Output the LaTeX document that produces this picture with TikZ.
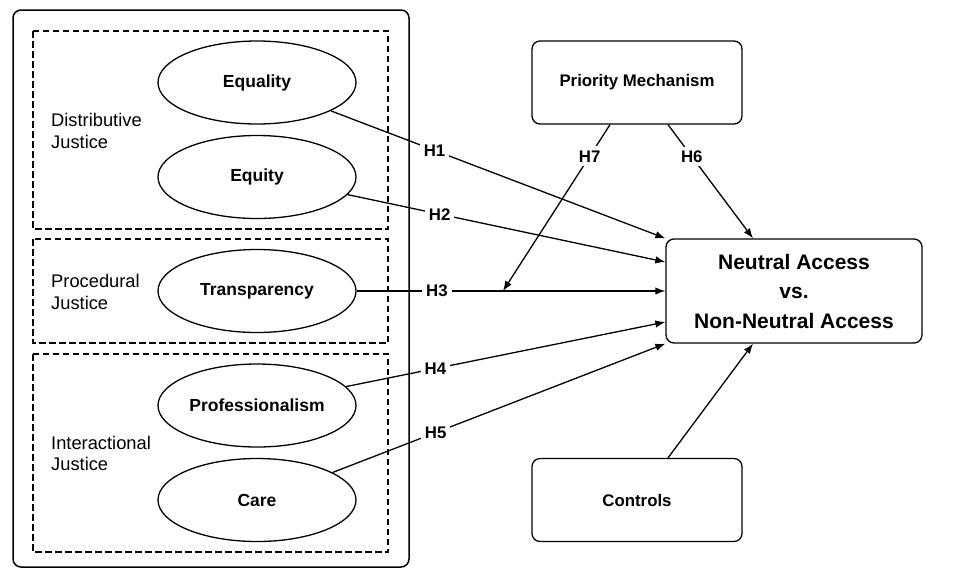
\documentclass[tikz,border=0pt]{standalone}
\usepackage{fontspec}
\setmainfont{Liberation Sans}
\usetikzlibrary{shapes.geometric,arrows.meta,calc}
\begin{document}
\begin{tikzpicture}[x=1pt,y=-1pt,
  ln/.style={line width=1.3pt},
  arr/.style={ln,-{Latex[length=10pt,width=7.5pt]}},
  dbox/.style={line width=1.2pt,dash pattern=on 6.5pt off 3.5pt},
  ell/.style={ellipse,draw,line width=1.3pt,minimum width=198pt,minimum height=83pt,inner sep=0pt,font=\fontsize{17.5}{20}\selectfont\bfseries},
  rbox/.style={draw,rectangle,rounded corners=8pt,line width=1.3pt,minimum width=210pt,minimum height=83pt,inner sep=0pt,font=\fontsize{16.8}{20}\selectfont\bfseries},
  grp/.style={anchor=west,align=left,inner sep=0pt,font=\fontsize{18.3}{21.5}\selectfont},
  hl/.style={fill=white,inner sep=4pt,font=\fontsize{16.8}{19}\selectfont\bfseries}]
\useasboundingbox (0,0) rectangle (973,571);
% outer box
\draw[line width=1.5pt,rounded corners=8pt] (13,10) rectangle (409,567);
% dashed groups
\draw[dbox] (33,31) rectangle (388,229);
\draw[dbox] (33,239) rectangle (388,343);
\draw[dbox] (33,354) rectangle (388,552);
\node[grp] (dj) at (51,131) {Distributive\\Justice};
\node[grp] (pj) at (51,292) {Procedural\\Justice};
\node[grp] (ij) at (51,453.5) {Interactional\\Justice};
% ellipses
\node[ell] (eq) at (257,82.5) {Equality};
\node[ell] (et) at (257,177) {Equity};
\node[ell] (tr) at (257,291) {Transparency};
\node[ell] (pr) at (257,405.5) {Professionalism};
\node[ell] (ca) at (257,500) {Care};
% right boxes
\node[rbox] (pm) at (637,82.5) {Priority Mechanism};
\node[rbox] (ct) at (637,500) {Controls};
\node[draw,rectangle,rounded corners=8pt,line width=1.3pt,minimum width=256pt,minimum height=104pt,inner sep=0pt,align=center,font=\fontsize{21}{29.5}\selectfont\bfseries] (na) at (794,291) {Neutral Access\\vs.\\Non-Neutral Access};
% connectors
\draw[arr] (eq.-21) -- node[hl,pos=0.31] {H1} (na.north west);
\draw[arr] (et.-11) -- node[hl,pos=0.29] {H2} ($(na.west)+(0,-29)$);
\draw[arr] (tr.east) -- node[hl,pos=0.26] {H3} (na.west);
\draw[arr] (pr.12) -- node[hl,pos=0.28] {H4} ($(na.west)+(0,31)$);
\draw[arr] (ca.20) -- node[hl,pos=0.31] {H5} (na.south west);
\draw[arr] ($(pm.south)+(31,0)$) -- node[hl,pos=0.28] {H6} ($(na.north)+(-41,0)$);
\coordinate (h7end) at (503,291);
\draw[arr] ($(pm.south)+(-27,0)$) -- node[hl,pos=0.19] {H7} (h7end);
\draw[arr] ($(ct.north)+(31,0)$) -- ($(na.south)+(-41,0)$);
\end{tikzpicture}
\end{document}
